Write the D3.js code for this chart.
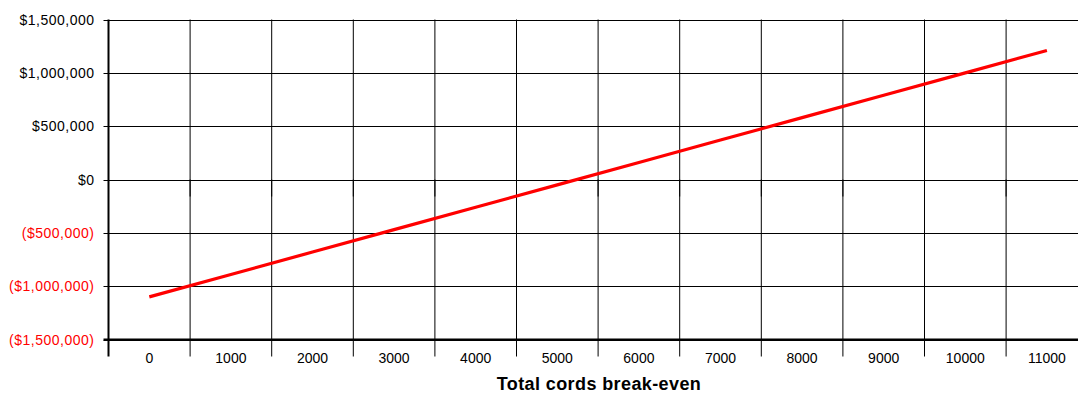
<!DOCTYPE html>
<html>
<head>
<meta charset="utf-8">
<script src="https://cdn.jsdelivr.net/npm/d3@7"></script>
<style>
  html, body { margin: 0; padding: 0; background: #fff; }
  svg { display: block; font-family: "Liberation Sans", Arial, sans-serif; }
</style>
</head>
<body>
<svg id="chart" width="1078" height="394"></svg>
<script>
// Break-even profit by total cords
const cords = ["0", "1000", "2000", "3000", "4000", "5000", "6000", "7000", "8000", "9000", "10000", "11000"];
const profit = [-1100000, -890000, -680000, -470000, -260000, -50000, 160000, 370000, 580000, 790000, 1000000, 1210000];
const yTicks = [-1500000, -1000000, -500000, 0, 500000, 1000000, 1500000];
const xTitle = "Total cords break-even";

(function () {
  const svg = d3.select("#chart");
  const plotLeft = 108.5, plotTop = 19.5, plotBottom = 339.5;
  const band = 81.6;

  const x = d3.scaleBand()
    .domain(cords)
    .range([plotLeft, plotLeft + band * cords.length])
    .paddingInner(0).paddingOuter(0);

  const y = d3.scaleLinear()
    .domain([-1500000, 1500000])
    .range([plotBottom, plotTop]);

  const money = v => {
    const s = "$" + d3.format(",")(Math.abs(v));
    return v < 0 ? "(" + s + ")" : s;
  };

  // horizontal gridlines
  svg.append("g")
    .selectAll("line")
    .data(yTicks)
    .join("line")
    .attr("x1", plotLeft - 5)
    .attr("x2", 1100)
    .attr("y1", d => Math.round(y(d)) + 0.5)
    .attr("y2", d => Math.round(y(d)) + 0.5)
    .attr("stroke", "#000")
    .attr("stroke-width", 1);

  // vertical gridlines at category boundaries
  const bounds = cords.slice(1).map(c => x(c));
  svg.append("g")
    .selectAll("line")
    .data(bounds)
    .join("line")
    .attr("x1", d => d)
    .attr("x2", d => d)
    .attr("y1", plotTop)
    .attr("y2", plotBottom + 17)
    .attr("stroke", "#000")
    .attr("stroke-width", 1);

  // category ticks at the zero line
  svg.append("g")
    .selectAll("line")
    .data(bounds)
    .join("line")
    .attr("x1", d => d)
    .attr("x2", d => d)
    .attr("y1", y(0))
    .attr("y2", y(0) + 17)
    .attr("stroke", "#000")
    .attr("stroke-width", 1);

  // axes frame
  svg.append("line")
    .attr("x1", plotLeft).attr("x2", plotLeft)
    .attr("y1", plotTop).attr("y2", plotBottom + 17)
    .attr("stroke", "#000").attr("stroke-width", 2);
  svg.append("line")
    .attr("x1", plotLeft - 5).attr("x2", 1100)
    .attr("y1", plotBottom).attr("y2", plotBottom)
    .attr("stroke", "#000").attr("stroke-width", 2);

  // y tick labels
  svg.append("g")
    .selectAll("text")
    .data(yTicks)
    .join("text")
    .attr("x", 94.5)
    .attr("y", d => y(d))
    .attr("dy", "0.36em")
    .attr("text-anchor", "end")
    .attr("font-size", 14)
    .attr("letter-spacing", "0.5px")
    .attr("fill", d => d < 0 ? "#ff0000" : "#000")
    .text(money);

  // x tick labels
  svg.append("g")
    .selectAll("text")
    .data(cords)
    .join("text")
    .attr("x", d => x(d) + x.bandwidth() / 2)
    .attr("y", 363)
    .attr("text-anchor", "middle")
    .attr("font-size", 14)
    .attr("fill", "#000")
    .text(d => d);

  // x axis title
  svg.append("text")
    .attr("x", 599)
    .attr("y", 390)
    .attr("text-anchor", "middle")
    .attr("font-size", 18)
    .attr("letter-spacing", "0.4px")
    .attr("font-weight", "bold")
    .text(xTitle);

  // profit line
  const line = d3.line()
    .x((d, i) => x(cords[i]) + x.bandwidth() / 2)
    .y(d => y(d));

  svg.append("path")
    .datum(profit)
    .attr("d", line)
    .attr("fill", "none")
    .attr("stroke", "#ff0000")
    .attr("stroke-width", 3.2);
})();
</script>
</body>
</html>
